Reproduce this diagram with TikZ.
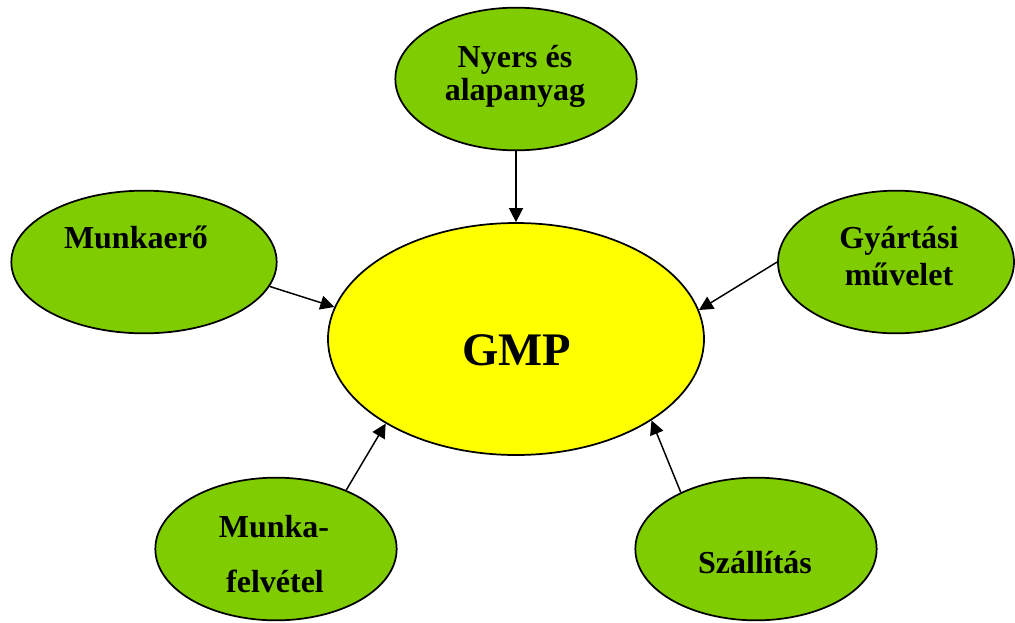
\documentclass[tikz,border=0pt]{standalone}
\usepackage{fontspec}
\setmainfont{Liberation Serif}
\usetikzlibrary{arrows.meta,shapes.geometric}
\definecolor{leaf}{RGB}{127,204,0}
\definecolor{sun}{RGB}{255,255,0}
\tikzset{
  bubble/.style={ellipse, draw=black, line width=1.3pt, fill=leaf,
    minimum width=181pt, minimum height=107pt, inner sep=0pt},
  hub/.style={ellipse, draw=black, line width=1.3pt, fill=sun,
    minimum width=282pt, minimum height=174pt, inner sep=0pt},
  word/.style={anchor=base, inner sep=0pt, font=\fontsize{24pt}{28pt}\selectfont\bfseries},
  bigword/.style={anchor=base, inner sep=0pt, font=\fontsize{35pt}{40pt}\selectfont\bfseries},
  feed/.style={line width=1.1pt, -{Triangle[length=10.5pt,width=10.5pt]}}
}
\begin{document}
\begin{tikzpicture}[x=0.75pt,y=-0.75pt]
\useasboundingbox (0,0) rectangle (1015,622);

% central hub
\node[hub] (gmp) at (516,339) {};
\node[bigword] (gmptext) at (517,365) {GMP};

% surrounding factors
\node[bubble] (raw) at (516,79) {};
\node[word] (rawA) at (515,67) {Nyers és};
\node[word] (rawB) at (515,100) {alapanyag};

\node[bubble, minimum width=199pt] (labour) at (144,262) {};
\node[word] (labourA) at (136,248) {Munkaerő};

\node[bubble, minimum width=177pt] (process) at (896,262) {};
\node[word] (processA) at (899,248) {Gyártási};
\node[word] (processB) at (899,285) {művelet};

\node[bubble] (hire) at (276,549) {};
\node[word] (hireA) at (274,537) {Munka-};
\node[word] (hireB) at (275,592) {felvétel};

\node[bubble] (ship) at (756,549) {};
\node[word] (shipA) at (755,573) {Szállítás};

% influences pointing at the hub
\draw[feed] (raw.-90) -- (gmp.90);
\draw[feed] (labour.-11) -- (gmp.170.5);
\draw[feed] (process.180) -- (gmp.9);
\draw[feed] (hire.40) -- (gmp.213.8);
\draw[feed] (ship.143) -- (gmp.-31);
\end{tikzpicture}
\end{document}
